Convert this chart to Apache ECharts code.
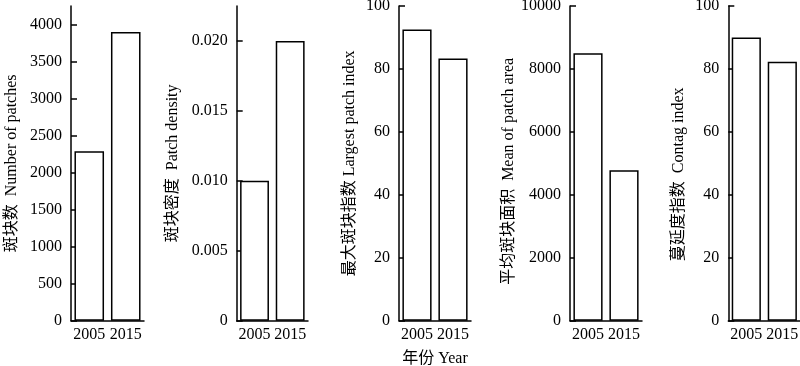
<!DOCTYPE html>
<html><head><meta charset="utf-8">
<script src="https://cdn.jsdelivr.net/npm/echarts@6/dist/echarts.min.js"></script>
<style>html,body{margin:0;padding:0;background:#fff}#c{width:800px;height:366px}</style>
</head><body><div id="c"></div>
<script>
const years = ['2005', '2015'];
const numberOfPatches = [2290, 3900];
const patchDensity = [0.010, 0.020];
const largestPatchIndex = [92.5, 83.3];
const meanPatchArea = [8500, 4780];
const contagIndex = [90, 82.3];

const ticksNP = [0, 500, 1000, 1500, 2000, 2500, 3000, 3500, 4000];
const ticksPD = [0, 0.005, 0.010, 0.015, 0.020];
const ticksLPI = [0, 20, 40, 60, 80, 100];
const ticksMPA = [0, 2000, 4000, 6000, 8000, 10000];
const ticksCI = [0, 20, 40, 60, 80, 100];

const names = ['斑块数  Number of patches', '斑块密度  Patch density', '最大斑块指数 Largest patch index', '平均斑块面积  Mean of patch area', '蔓延度指数  Contag index'];
const xName = '年份 Year';

const FONT = '"Liberation Serif", "Times New Roman", "Noto Sans CJK SC", serif';
const panels = [
  {data: numberOfPatches, ticks: ticksNP, max: 4250, left: 71, width: 73, gap: 51, shift: 0, fmt: v => String(v)},
  {data: patchDensity, ticks: ticksPD, max: 0.0225, left: 236.7, width: 71.3, gap: 56, shift: 0, fmt: v => v === 0 ? '0' : v.toFixed(3)},
  {data: largestPatchIndex, ticks: ticksLPI, max: 100, left: 399, width: 72, gap: 41, shift: 0, fmt: v => String(v)},
  {data: meanPatchArea, ticks: ticksMPA, max: 10000, left: 570, width: 72, gap: 52, shift: 16, fmt: v => String(v)},
  {data: contagIndex, ticks: ticksCI, max: 100, left: 728.3, width: 72, gap: 42, shift: 22, fmt: v => String(v)}
];

const axisLine = {show: true, lineStyle: {color: '#000', width: 1.5}};
const option = {
  animation: false,
  backgroundColor: '#fff',
  grid: panels.map(p => ({left: p.left, width: p.width, top: 6, bottom: 45.3, containLabel: false, outerBoundsMode: 'none'})),
  xAxis: panels.map((p, i) => ({
    type: 'category', gridIndex: i, data: years, boundaryGap: true,
    axisLine: axisLine, axisTick: {show: false},
    axisLabel: {color: '#000', fontFamily: FONT, fontSize: 16, margin: 6, interval: 0, hideOverlap: false},
    name: i === 2 ? xName : '', nameLocation: 'middle', nameGap: 30,
    nameTextStyle: {color: '#000', fontFamily: FONT, fontSize: 16}
  })),
  yAxis: panels.map((p, i) => ({
    type: 'value', gridIndex: i, min: 0, max: p.max,
    axisLine: axisLine,
    axisTick: {show: true, inside: true, length: 6, lineStyle: {color: '#000', width: 1.5}, customValues: p.ticks},
    axisLabel: {color: '#000', fontFamily: FONT, fontSize: 16, margin: 9, customValues: p.ticks, formatter: p.fmt},
    splitLine: {show: false},
    name: names[i], nameLocation: 'middle', nameGap: p.gap,
    nameTextStyle: {color: '#000', fontFamily: FONT, fontSize: 16, padding: [0, p.shift, 0, 0]}
  })),
  series: panels.map((p, i) => ({
    type: 'bar', xAxisIndex: i, yAxisIndex: i, data: p.data,
    barCategoryGap: '19%',
    itemStyle: {color: '#fff', borderColor: '#000', borderWidth: 1.5}
  }))
};
echarts.init(document.getElementById('c')).setOption(option);
</script></body></html>
